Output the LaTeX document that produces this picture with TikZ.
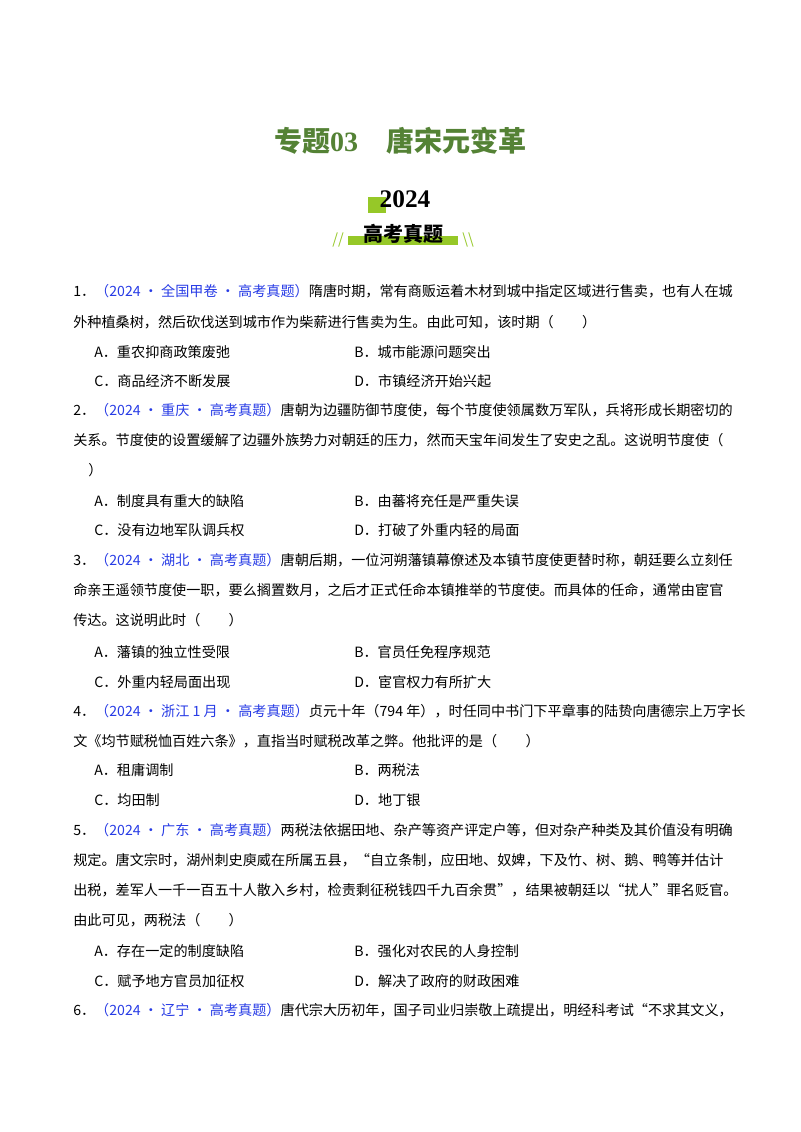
\documentclass[tikz,border=0pt]{standalone}
\usepackage{fontspec}
\setmainfont{Noto Sans CJK SC}
\newfontfamily\serifnum{Liberation Serif}
\definecolor{tgreen}{RGB}{84,130,53}
\definecolor{lime}{RGB}{150,200,40}
\definecolor{qblue}{RGB}{40,60,230}
\begin{document}
\begin{tikzpicture}[x=0.75pt,y=-0.75pt,
  ln/.style={anchor=west,inner sep=0,font=\fontsize{10.6pt}{12pt}\selectfont},
  tag/.style={text=qblue}]
\useasboundingbox (0,0) rectangle (800,1132);
\fill[white] (0,0) rectangle (800,1132);
\node[text=tgreen,font=\fontsize{21pt}{24pt}\selectfont\bfseries] (title) at (400,141) {专题{\serifnum 03}\quad 唐宋元变革};
\fill[lime] (368,197) rectangle (386,213);
\node[font=\fontsize{19pt}{22pt}\selectfont\serifnum\bfseries] (yr) at (405,199) {2024};
\fill[lime] (348,236) rectangle (458,245);
\node[font=\fontsize{15pt}{18pt}\selectfont\bfseries] (gk) at (403,234) {高考真题};
\node[text=lime,font=\fontsize{11pt}{12pt}\selectfont\itshape] (s1) at (338,240) {//};
\node[text=lime,font=\fontsize{11pt}{12pt}\selectfont] (s2) at (468,240) {\textbackslash\textbackslash};
% Q1
\node[ln] (q1a) at (73,291) {1．{\color{qblue}（2024 • 全国甲卷 • 高考真题）}隋唐时期，常有商贩运着木材到城中指定区域进行售卖，也有人在城};
\node[ln] (q1b) at (73,322) {外种植桑树，然后砍伐送到城市作为柴薪进行售卖为生。由此可知，该时期（\qquad）};
\node[ln] (q1A) at (94,352) {A．重农抑商政策废弛};
\node[ln] (q1B) at (354,352) {B．城市能源问题突出};
\node[ln] (q1C) at (94,381) {C．商品经济不断发展};
\node[ln] (q1D) at (354,381) {D．市镇经济开始兴起};
% Q2
\node[ln] (q2a) at (73,410) {2．{\color{qblue}（2024 • 重庆 • 高考真题）}唐朝为边疆防御节度使，每个节度使领属数万军队，兵将形成长期密切的};
\node[ln] (q2b) at (73,440) {关系。节度使的设置缓解了边疆外族势力对朝廷的压力，然而天宝年间发生了安史之乱。这说明节度使（};
\node[ln] (q2c) at (88,470) {）};
\node[ln] (q2A) at (94,501) {A．制度具有重大的缺陷};
\node[ln] (q2B) at (354,501) {B．由蕃将充任是严重失误};
\node[ln] (q2C) at (94,530) {C．没有边地军队调兵权};
\node[ln] (q2D) at (354,530) {D．打破了外重内轻的局面};
% Q3
\node[ln] (q3a) at (73,560) {3．{\color{qblue}（2024 • 湖北 • 高考真题）}唐朝后期，一位河朔藩镇幕僚述及本镇节度使更替时称，朝廷要么立刻任};
\node[ln] (q3b) at (73,590) {命亲王遥领节度使一职，要么搁置数月，之后才正式任命本镇推举的节度使。而具体的任命，通常由宦官};
\node[ln] (q3c) at (73,620) {传达。这说明此时（\qquad）};
\node[ln] (q3A) at (94,652) {A．藩镇的独立性受限};
\node[ln] (q3B) at (354,652) {B．官员任免程序规范};
\node[ln] (q3C) at (94,682) {C．外重内轻局面出现};
\node[ln] (q3D) at (354,682) {D．宦官权力有所扩大};
% Q4
\node[ln] (q4a) at (73,711) {4．{\color{qblue}（2024 • 浙江 1 月 • 高考真题）}贞元十年（794 年），时任同中书门下平章事的陆贽向唐德宗上万字长};
\node[ln] (q4b) at (73,741) {文《均节赋税恤百姓六条》，直指当时赋税改革之弊。他批评的是（\qquad）};
\node[ln] (q4A) at (94,770) {A．租庸调制};
\node[ln] (q4B) at (354,770) {B．两税法};
\node[ln] (q4C) at (94,800) {C．均田制};
\node[ln] (q4D) at (354,800) {D．地丁银};
% Q5
\node[ln] (q5a) at (73,830) {5．{\color{qblue}（2024 • 广东 • 高考真题）}两税法依据田地、杂产等资产评定户等，但对杂产种类及其价值没有明确};
\node[ln] (q5b) at (73,860) {规定。唐文宗时，湖州刺史庾威在所属五县，“自立条制，应田地、奴婢，下及竹、树、鹅、鸭等并估计};
\node[ln] (q5c) at (73,890) {出税，差军人一千一百五十人散入乡村，检责剩征税钱四千九百余贯”，结果被朝廷以“扰人”罪名贬官。};
\node[ln] (q5d) at (73,920) {由此可见，两税法（\qquad）};
\node[ln] (q5A) at (94,951) {A．存在一定的制度缺陷};
\node[ln] (q5B) at (354,951) {B．强化对农民的人身控制};
\node[ln] (q5C) at (94,981) {C．赋予地方官员加征权};
\node[ln] (q5D) at (354,981) {D．解决了政府的财政困难};
% Q6
\node[ln] (q6a) at (73,1010) {6．{\color{qblue}（2024 • 辽宁 • 高考真题）}唐代宗大历初年，国子司业归崇敬上疏提出，明经科考试“不求其文义，};
\end{tikzpicture}
\end{document}
